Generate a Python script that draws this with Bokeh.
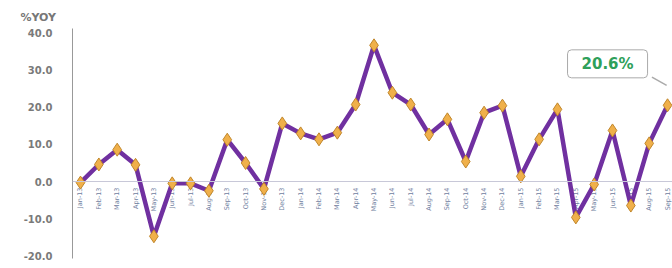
import math
from bokeh.plotting import figure
from bokeh.models import Span, Label, FixedTicker, ColumnDataSource, NumeralTickFormatter
from bokeh.core.properties import value
from bokeh.embed import file_html
from bokeh.resources import INLINE

months = ["Jan", "Feb", "Mar", "Apr", "May", "Jun", "Jul", "Aug", "Sep", "Oct", "Nov", "Dec"]
labels = [f"{m}-13" for m in months] + [f"{m}-14" for m in months] + [f"{m}-15" for m in months[:9]]
yoy = [-0.3, 4.6, 8.6, 4.5, -14.8, -0.5, -0.5, -2.5, 11.3, 5.0, -2.0, 15.7,
       13.0, 11.4, 13.2, 20.8, 36.8, 24.0, 20.8, 12.7, 16.8, 5.4, 18.6, 20.5,
       1.4, 11.4, 19.5, -9.7, -0.8, 13.8, -6.5, 10.3, 20.6]
y_ticks = [-20, -10, 0, 10, 20, 30, 40]
callout = "20.6%"

idx = list(range(len(yoy)))
src = ColumnDataSource(dict(x=idx, y=yoy, lab=labels, zero=[0] * len(yoy)))

p = figure(width=672, height=268, output_backend="svg", toolbar_location=None,
           x_range=(-0.436, 32.27), y_range=(-20.81, 41.35),
           min_border_left=72, min_border_right=0, min_border_top=28, min_border_bottom=10,
           background_fill_color="white", border_fill_color="white")
p.outline_line_color = None
p.grid.visible = False
p.xaxis.visible = False

p.title.text = "%YOY"
p.title.align = "left"
p.title.offset = -52
p.title.standoff = 9
p.title.text_font = "DejaVu Sans"
p.title.text_font_style = "bold"
p.title.text_font_size = "11px"
p.title.text_color = "#777777"

ya = p.yaxis[0]
ya.ticker = FixedTicker(ticks=y_ticks)
ya.formatter = NumeralTickFormatter(format="0.0")
ya.major_tick_line_color = None
ya.minor_tick_line_color = None
ya.axis_line_color = "#999999"
ya.axis_line_width = 1
ya.major_label_standoff = 14
ya.major_label_text_font = "DejaVu Sans"
ya.major_label_text_font_style = "bold"
ya.major_label_text_font_size = "10px"
ya.major_label_text_color = "#7a7a7a"

p.add_layout(Span(location=0, dimension="width", line_color="#c8c8d8", line_width=1))

p.text(x="x", y="zero", text="lab", source=src, angle=math.pi / 2, y_offset=6,
       text_align="right", text_baseline="middle", text_font=value("DejaVu Sans"),
       text_font_size="6.5px", text_color="#6f80a0")

p.line(x="x", y="y", source=src, line_color="#7030A0", line_width=4.5)
p.scatter(x="x", y="y", source=src, marker="diamond", size=13,
          fill_color="#F0B04A", line_color="#C0862A", line_width=1)

# callout tail towards last point
p.segment(x0=[idx[-1] - 0.85], y0=[yoy[-1] + 7.6], x1=[idx[-1] - 0.05], y1=[yoy[-1] + 5.4],
          line_color="#aaaaaa", line_width=1.5)

p.add_layout(Label(x=idx[-1] - 3.27, y=yoy[-1] + 11.2, text=callout,
                   text_font="DejaVu Sans", text_font_style="bold", text_font_size="15px",
                   text_color="#2EA05A", text_align="center", text_baseline="middle",
                   background_fill_color="white", border_line_color="#aaaaaa",
                   border_line_width=1, padding=(14, 5), border_radius=4))

open("out.html", "w").write(file_html(p, INLINE))
